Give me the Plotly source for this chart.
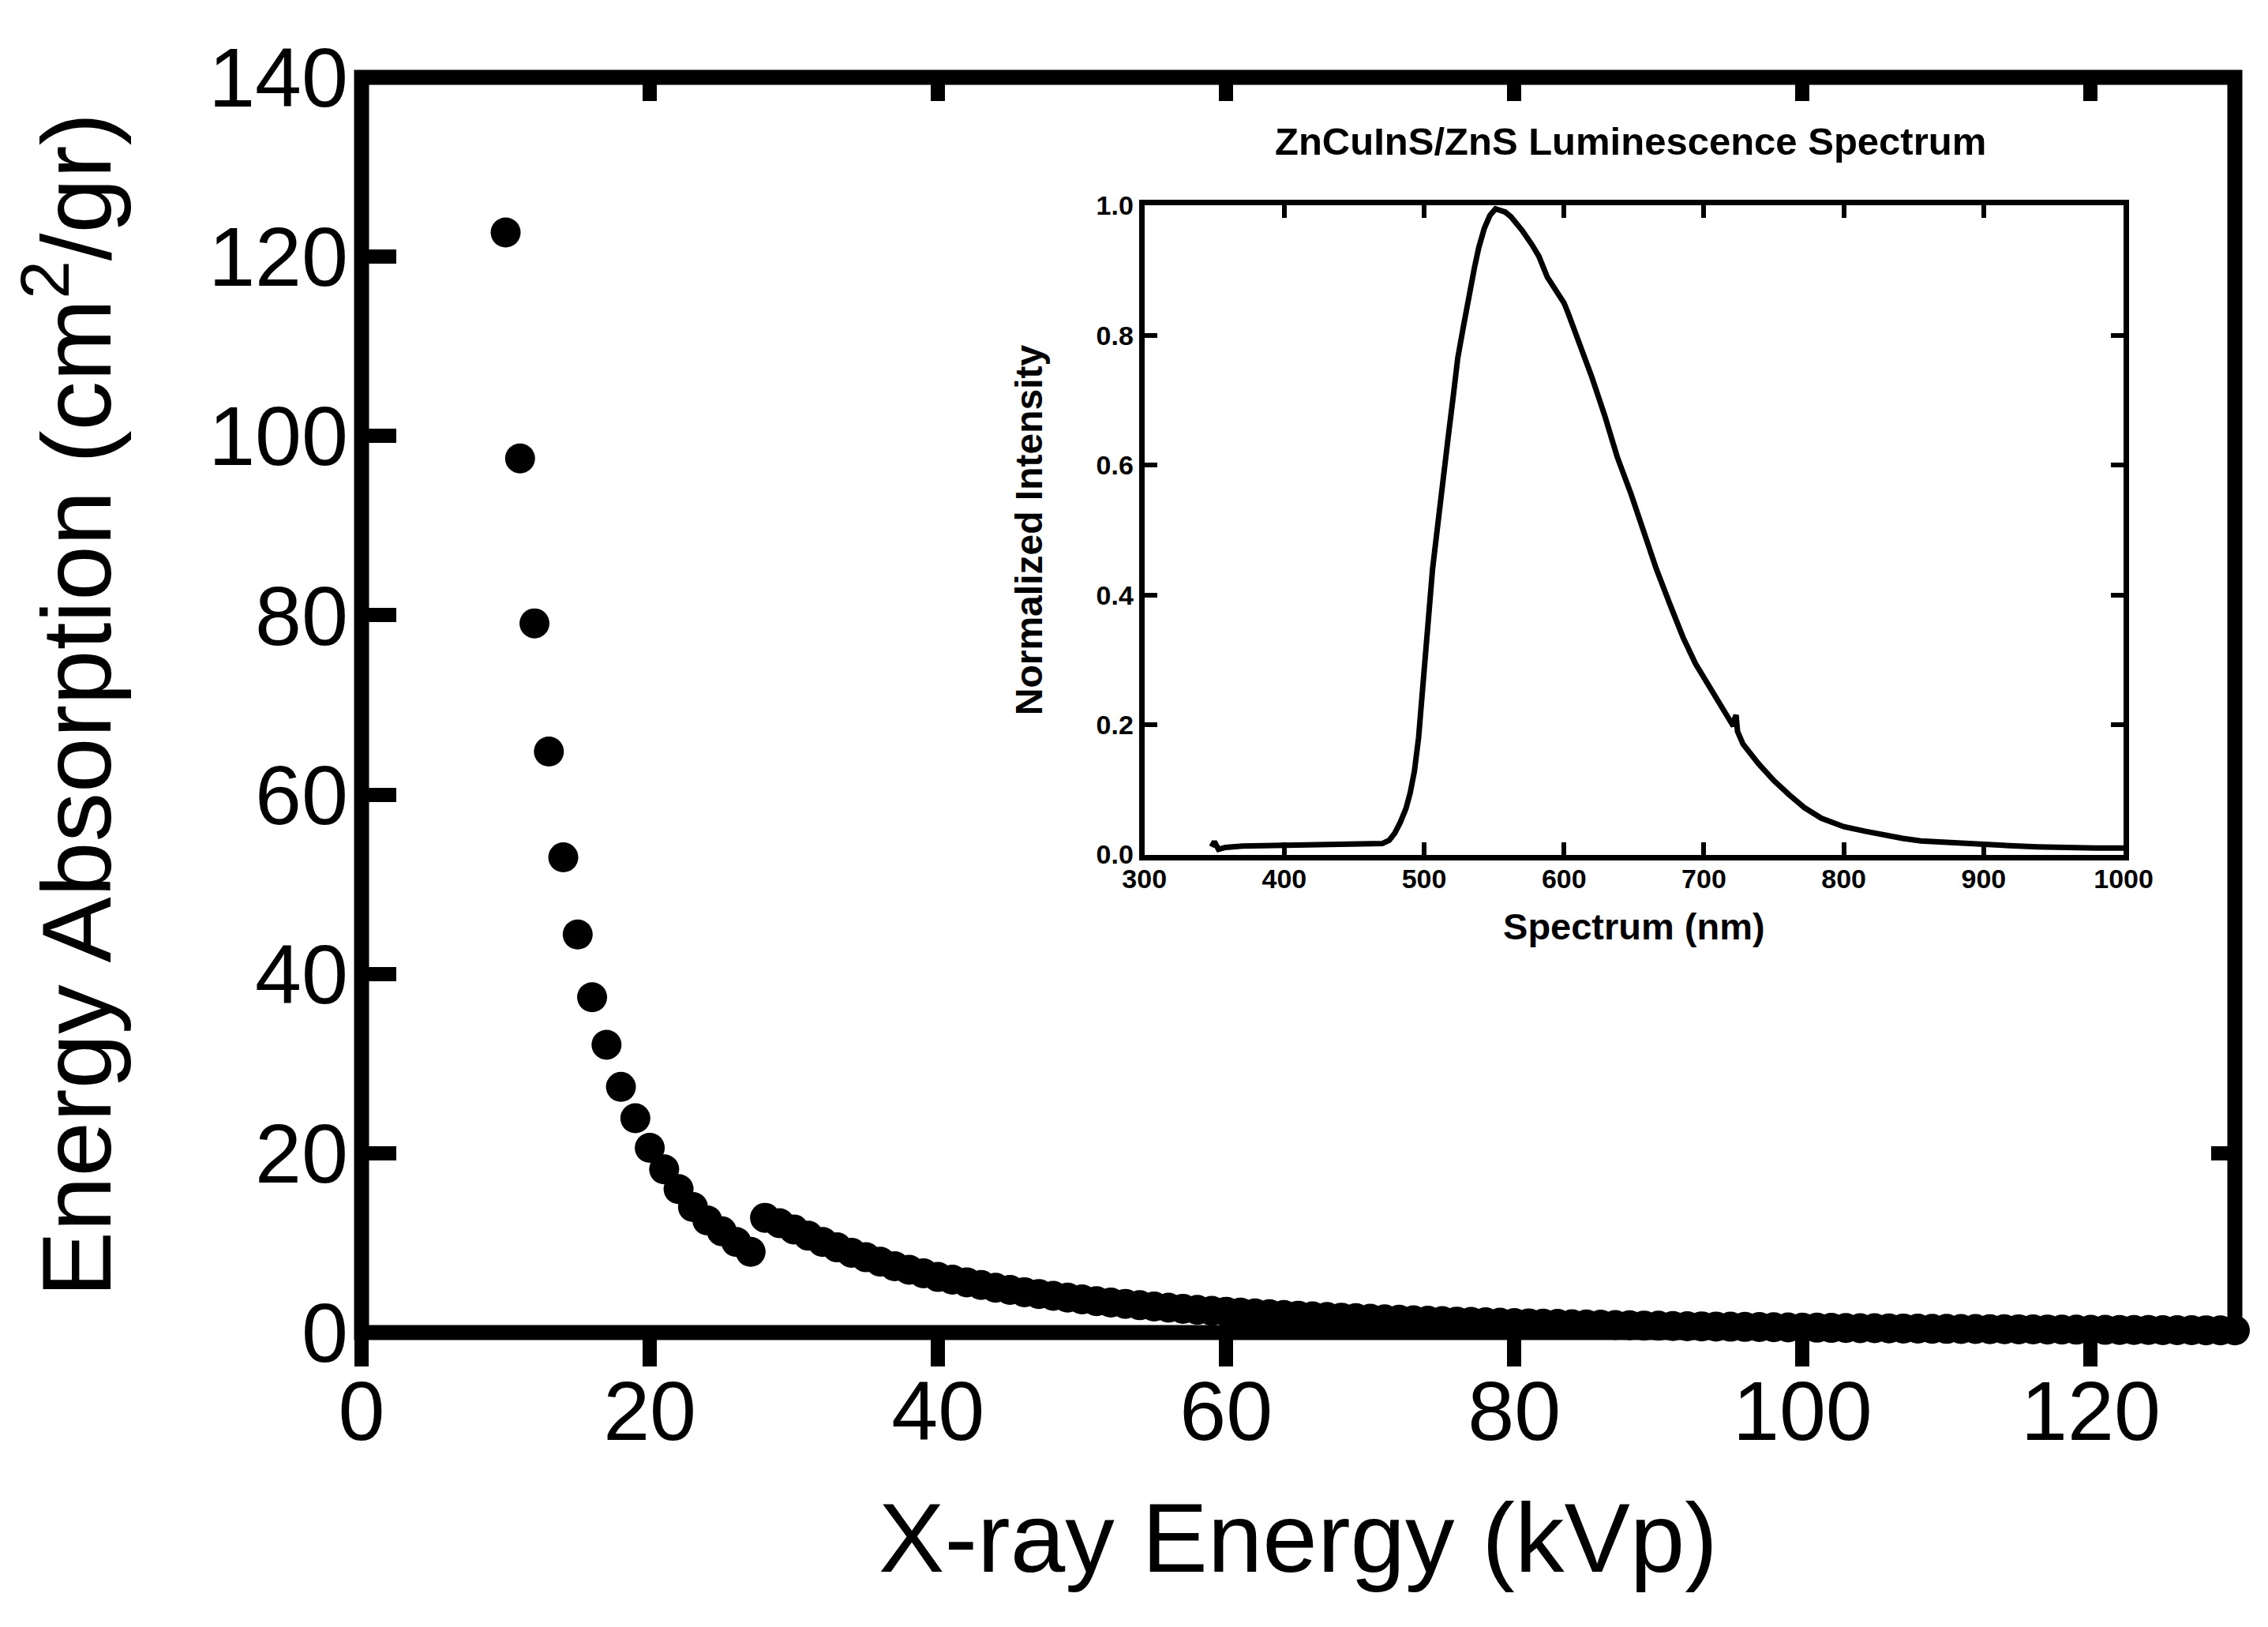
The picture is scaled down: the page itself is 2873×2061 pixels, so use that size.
import plotly.graph_objects as go

# ---------------- data: main plot ----------------
kvp_low = list(range(10, 28))
absorption_low = [122.7, 97.5, 79.1, 64.8, 53.0, 44.4, 37.4, 32.1, 27.4, 23.9,
                  20.6, 18.2, 16.0, 14.0, 12.5, 11.3, 10.1, 9.0]

kvp_high = list(range(28, 131))
absorption_high = [12.8, 12.2, 11.5, 10.8, 10.1, 9.5, 8.9, 8.4, 7.9, 7.4,
                   7.0, 6.6, 6.2, 5.9, 5.6, 5.3, 5.0, 4.75, 4.5, 4.3,
                   4.1, 3.9, 3.7, 3.5, 3.35, 3.2, 3.05, 2.9, 2.78, 2.65,
                   2.53, 2.42, 2.32, 2.22, 2.13, 2.04, 1.96, 1.88, 1.8, 1.73,
                   1.66, 1.6, 1.54, 1.48, 1.42, 1.37, 1.32, 1.27, 1.22, 1.18,
                   1.14, 1.1, 1.06, 1.02, 0.99, 0.96, 0.93, 0.9, 0.87, 0.84,
                   0.81, 0.78, 0.76, 0.73, 0.71, 0.69, 0.67, 0.65, 0.63, 0.61,
                   0.59, 0.57, 0.55, 0.54, 0.52, 0.51, 0.49, 0.48, 0.46, 0.45,
                   0.44, 0.42, 0.41, 0.40, 0.39, 0.38, 0.37, 0.36, 0.35, 0.34,
                   0.33, 0.32, 0.31, 0.30, 0.29, 0.29, 0.28, 0.27, 0.26, 0.26,
                   0.25, 0.24, 0.24]

x_ticks = [0, 20, 40, 60, 80, 100, 120]
y_ticks = [0, 20, 40, 60, 80, 100, 120, 140]
top_ticks = [20, 40, 60, 80, 100, 120]
right_ticks = [20]          # the others are hidden behind the inset's white panel

# ---------------- data: inset spectrum ----------------
wavelength = [348, 350, 353, 358, 370, 400, 430, 460, 470, 475,
              479, 483, 487, 490, 493, 496, 498, 500, 502, 504,
              506, 509, 513, 517, 521, 524, 528, 532, 536, 539,
              543, 547, 551, 554, 558, 562, 566, 570, 577, 582,
              588, 595, 600, 603, 610, 620, 629, 638, 648, 657,
              666, 676, 685, 694, 704, 713, 721, 722, 723, 724,
              728, 739, 750, 761, 772, 784, 800, 815, 828, 842,
              855, 870, 883, 897, 910, 925, 938, 952, 966, 980, 1000]
intensity = [0.012, 0.020, 0.008, 0.011, 0.013, 0.014, 0.014, 0.015, 0.017, 0.022,
             0.033, 0.050, 0.071, 0.095, 0.128, 0.180, 0.235, 0.285, 0.335, 0.390,
             0.440, 0.495, 0.560, 0.640, 0.710, 0.765, 0.813, 0.865, 0.905, 0.935,
             0.965, 0.985, 0.995, 0.993, 0.990, 0.983, 0.973, 0.962, 0.940, 0.922,
             0.890, 0.866, 0.850, 0.834, 0.795, 0.735, 0.677, 0.613, 0.555, 0.497,
             0.440, 0.384, 0.335, 0.294, 0.258, 0.226, 0.198, 0.210, 0.215, 0.190,
             0.170, 0.140, 0.114, 0.092, 0.072, 0.056, 0.043, 0.036, 0.030, 0.025,
             0.021, 0.019, 0.017, 0.015, 0.014, 0.013, 0.012, 0.011, 0.010, 0.010, 0.010]

inset_x_ticks = [300, 400, 500, 600, 700, 800, 900, 1000]
inset_y_ticks = [0.0, 0.2, 0.4, 0.6, 0.8, 1.0]

assert len(kvp_low) == len(absorption_low)
assert len(kvp_high) == len(absorption_high)
assert len(wavelength) == len(intensity)

# ---------------- figure ----------------
W, H = 2873, 2061
L, R, T, B = 450, 41, 90, 381
FONT = "Arial, Liberation Sans, sans-serif"

fig = go.Figure()

fig.add_trace(go.Scatter(
    x=kvp_low + kvp_high, y=absorption_low + absorption_high,
    mode="markers", marker=dict(size=38, color="black", line=dict(width=0)),
    cliponaxis=False, showlegend=False, hoverinfo="skip"))

# invisible trace that carries the mirrored (top / right) axes
fig.add_trace(go.Scatter(x=[None], y=[None], xaxis="x2", yaxis="y2",
                         showlegend=False, hoverinfo="skip"))

fig.add_trace(go.Scatter(
    x=wavelength, y=intensity, mode="lines",
    line=dict(color="black", width=7),
    xaxis="x3", yaxis="y3", showlegend=False, hoverinfo="skip"))

tickfont_main = dict(family=FONT, size=106, color="black")
titlefont_main = dict(family=FONT, size=125, color="black")

fig.update_layout(
    width=W, height=H,
    margin=dict(l=L, r=R, t=T, b=B, pad=0),
    paper_bgcolor="white", plot_bgcolor="white",
    showlegend=False,
    font=dict(family=FONT, color="black"),
    xaxis=dict(
        range=[0, 130], tickvals=x_ticks, ticks="outside", ticklen=42,
        tickwidth=18, tickcolor="black", showline=False, showgrid=False,
        zeroline=False, tickfont=tickfont_main, ticklabelstandoff=-34,
        title=dict(text="X-ray Energy (kVp)", font=titlefont_main, standoff=58),
        domain=[0, 1], anchor="y"),
    yaxis=dict(
        range=[0, 140], tickvals=y_ticks, ticks="inside", ticklen=44,
        tickwidth=18, tickcolor="black", showline=False, showgrid=False,
        zeroline=False, tickfont=tickfont_main, ticklabelstandoff=16,
        title=dict(text="Energy Absorption (cm<sup>2</sup>/gr)", font=titlefont_main, standoff=86),
        domain=[0, 1], anchor="x"),
    xaxis2=dict(
        range=[0, 130], tickvals=top_ticks, ticks="inside", ticklen=30,
        tickwidth=18, tickcolor="black", showline=False, showgrid=False,
        zeroline=False, showticklabels=False, overlaying="x", side="top", anchor="y2"),
    yaxis2=dict(
        range=[0, 140], tickvals=right_ticks, ticks="inside", ticklen=30,
        tickwidth=18, tickcolor="black", showline=False, showgrid=False,
        zeroline=False, showticklabels=False, overlaying="y", side="right", anchor="x2"),
    xaxis3=dict(
        domain=[0.4179, 0.9406], anchor="y3", range=[300, 1000],
        tickvals=inset_x_ticks, ticks="inside", ticklen=16, tickwidth=6,
        tickcolor="black", showline=True, linewidth=7, linecolor="black",
        mirror="ticks", showgrid=False, zeroline=False, ticklabelstandoff=-5,
        tickfont=dict(family=FONT, size=34, color="black", weight="bold"),
        title=dict(text="Spectrum (nm)",
                   font=dict(family=FONT, size=47, color="black", weight="bold"),
                   standoff=28)),
    yaxis3=dict(
        domain=[0.3808, 0.8978], anchor="x3", range=[0, 1],
        tickvals=inset_y_ticks, tickformat=".1f", ticks="inside", ticklen=16,
        tickwidth=6, tickcolor="black", showline=True, linewidth=7,
        linecolor="black", mirror="ticks", showgrid=False, zeroline=False,
        tickfont=dict(family=FONT, size=34, color="black", weight="bold"),
        title=dict(text="Normalized Intensity",
                   font=dict(family=FONT, size=48, color="black", weight="bold"),
                   standoff=55)),
    shapes=[dict(type="rect", xref="paper", yref="paper", x0=0, x1=1, y0=0, y1=1,
                 line=dict(color="black", width=19), fillcolor="rgba(0,0,0,0)",
                 layer="above")],
    annotations=[dict(text="ZnCuInS/ZnS Luminescence Spectrum",
                      xref="paper", yref="paper", x=0.6776, y=0.949,
                      xanchor="center", yanchor="middle", showarrow=False,
                      font=dict(family=FONT, size=49, color="black", weight="bold"))],
)

fig.write_html("out.html")
